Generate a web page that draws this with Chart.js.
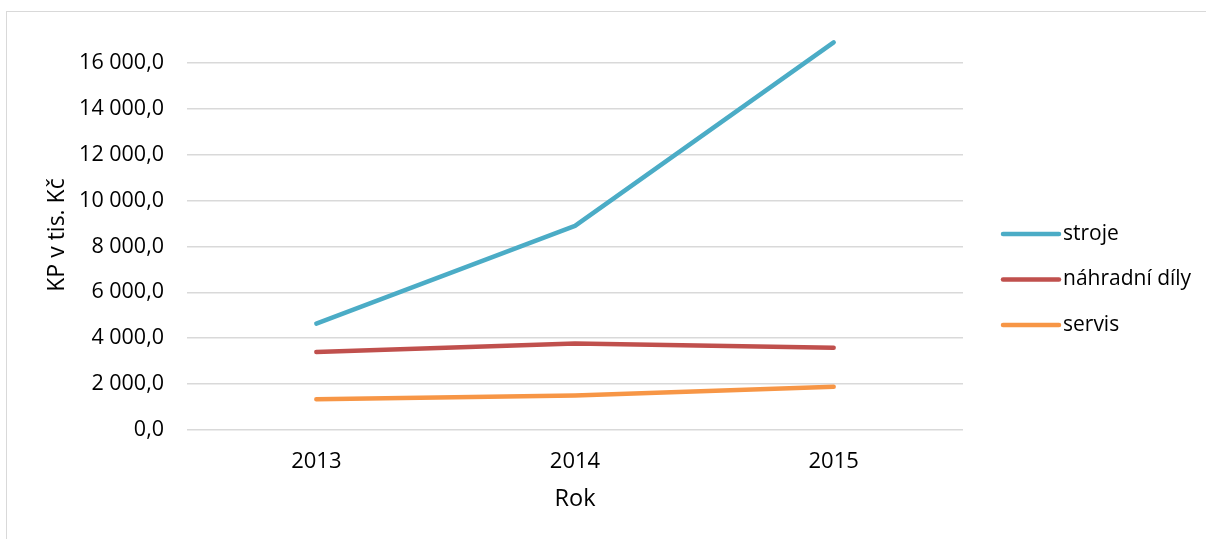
<!DOCTYPE html>
<html lang="cs">
<head>
<meta charset="utf-8">
<title>KP v tis. Kč</title>
<script src="https://cdn.jsdelivr.net/npm/chart.js@4.4.1/dist/chart.umd.min.js"></script>
<style>
    html, body { margin: 0; padding: 0; background: #fff; overflow: hidden; }
    /* light frame round the whole chart */
    #frame { position: absolute; left: 6px; top: 11px; width: 1300px; height: 536px; border: 1px solid #d9d9d9; }
    #kpChart { position: absolute; left: 0; top: 0; }
</style>
</head>
<body>
<div id="frame"></div>
<canvas id="kpChart" width="1206" height="539"></canvas>
<script>
const roky = ['2013', '2014', '2015'];
const stroje = [4640, 8900, 16900];
const nahradniDily = [3400, 3770, 3590];
const servis = [1345, 1500, 1885];
const nazvyRad = ['stroje', 'náhradní díly', 'servis'];
const barvy = ['#4BACC6', '#C0504D', '#F79646'];
const yTicks = [0, 2000, 4000, 6000, 8000, 10000, 12000, 14000, 16000];

const FONT = "'Open Sans', 'DejaVu Sans', sans-serif";
const TEXT_COLOR = '#000';

// 16000 -> "16 000,0"
function formatKc(value) {
    const parts = Number(value).toFixed(1).split('.');
    return parts[0].replace(/\B(?=(\d{3})+(?!\d))/g, ' ') + ',' + parts[1];
}

// legend on the right: a short thick line and the series name
const legendaVpravo = {
    id: 'legendaVpravo',
    afterDraw(chart) {
        const ctx = chart.ctx;
        const lineStart = chart.chartArea.right + 40;
        const lineEnd = lineStart + 56;
        ctx.save();
        ctx.font = '21px ' + FONT;
        ctx.textBaseline = 'middle';
        ctx.textAlign = 'left';
        chart.data.datasets.forEach((ds, i) => {
            const y = 234 + i * 45.5;
            ctx.beginPath();
            ctx.strokeStyle = ds.borderColor;
            ctx.lineWidth = 4.5;
            ctx.lineCap = 'round';
            ctx.moveTo(lineStart, y);
            ctx.lineTo(lineEnd, y);
            ctx.stroke();
            ctx.fillStyle = TEXT_COLOR;
            ctx.fillText(ds.label, lineEnd + 4, y);
        });
        ctx.restore();
    }
};

function radaDat(label, data, color) {
    return {
        label: label,
        data: data,
        borderColor: color,
        backgroundColor: color,
        borderWidth: 4.5,
        borderCapStyle: 'round',
        borderJoinStyle: 'round',
        pointRadius: 0,
        pointHoverRadius: 0,
        tension: 0,
        clip: false,
    };
}

const ctx = document.getElementById('kpChart').getContext('2d');
new Chart(ctx, {
    type: 'line',
    data: {
        labels: roky,
        datasets: [
            radaDat(nazvyRad[0], stroje, barvy[0]),
            radaDat(nazvyRad[1], nahradniDily, barvy[1]),
            radaDat(nazvyRad[2], servis, barvy[2]),
        ],
    },
    options: {
        responsive: false,
        animation: false,
        layout: {
            padding: { left: 44, right: 243, top: 40, bottom: 26 },
        },
        plugins: {
            legend: { display: false },
            tooltip: { enabled: false },
        },
        scales: {
            x: {
                offset: true,
                grid: { display: false },
                border: { display: false },
                ticks: {
                    color: TEXT_COLOR,
                    font: { family: FONT, size: 22 },
                    padding: 11,
                },
                title: {
                    display: true,
                    text: 'Rok',
                    color: TEXT_COLOR,
                    font: { family: FONT, size: 23.5 },
                    padding: 0,
                },
                afterFit: (scale) => { scale.height = 83; },
            },
            y: {
                min: 0,
                max: 17000,
                grid: { color: '#d9d9d9', lineWidth: 1.5, drawTicks: false },
                border: { display: false },
                afterBuildTicks: (scale) => {
                    scale.ticks = yTicks.map((v) => ({ value: v }));
                },
                ticks: {
                    color: TEXT_COLOR,
                    font: { family: FONT, size: 21.5 },
                    padding: 23,
                    callback: (value) => formatKc(value),
                },
                title: {
                    display: true,
                    text: 'KP v tis. Kč',
                    color: TEXT_COLOR,
                    font: { family: FONT, size: 23 },
                    padding: 0,
                },
                afterFit: (scale) => { scale.width = 143; },
            },
        },
    },
    plugins: [legendaVpravo],
});
</script>
</body>
</html>
